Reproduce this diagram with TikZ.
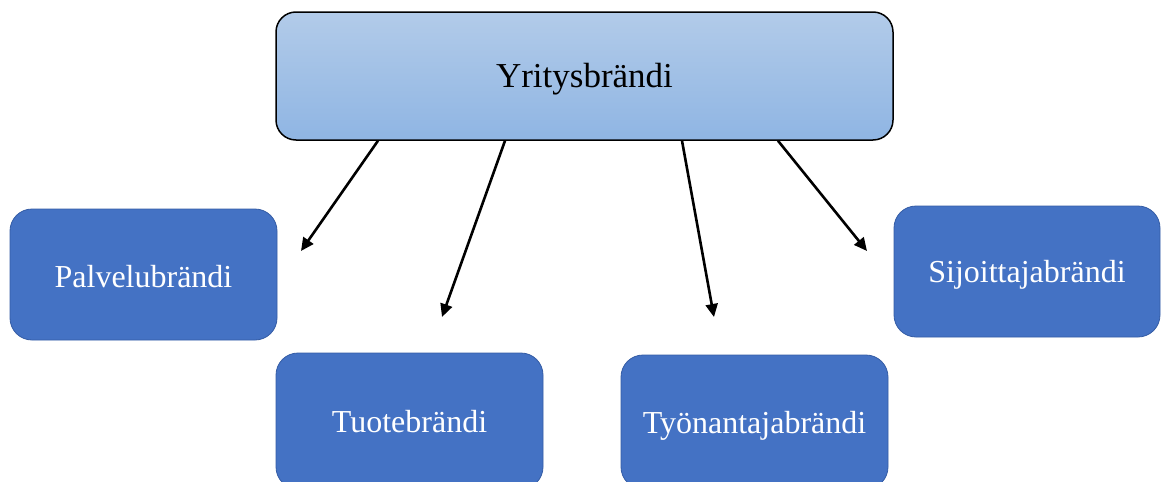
\documentclass[tikz,border=0pt]{standalone}
\usepackage{fontspec}
\setmainfont{Liberation Serif}
\usetikzlibrary{arrows.meta}
\definecolor{topA}{RGB}{178,203,233}
\definecolor{topB}{RGB}{143,181,227}
\definecolor{boxfill}{RGB}{68,114,196}
\definecolor{boxline}{RGB}{52,92,165}
\tikzset{
  mainbox/.style={rectangle, rounded corners=20pt, draw=black, line width=1.5pt,
    top color=topA, bottom color=topB, minimum width=617pt, minimum height=128pt,
    inner sep=0pt, font=\fontsize{35}{42}\selectfont, text=black},
  subbox/.style={rectangle, rounded corners=22pt, draw=boxline, line width=0.8pt,
    fill=boxfill, minimum width=267pt, inner sep=0pt,
    font=\fontsize{32}{38}\selectfont, text=white},
  base/.style={text height=#1, text depth=0pt},
  arr/.style={draw=black, line width=2.6pt, -{Triangle[length=13pt,width=12pt]}}
}
\begin{document}
\begin{tikzpicture}[x=1pt,y=-1pt]
\useasboundingbox (0,0) rectangle (1163,482);
\fill[white] (0,0) rectangle (1163,482);
\clip (0,0) rectangle (1163,482);
\node[mainbox, base=23pt] (top) at (584.5,76) {Yritysbrändi};
\node[subbox, base=26pt, minimum height=131pt] (palvelu) at (143.5,274.5) {Palvelubrändi};
\node[subbox, base=22pt, minimum height=136pt] (tuote) at (409.5,421) {Tuotebrändi};
\node[subbox, base=22pt, minimum height=134pt] (tyon) at (754.5,422) {Työnantajabrändi};
\node[subbox, base=21pt, minimum height=131pt, minimum width=266pt] (sijoittaja) at (1027,271.5) {Sijoittajabrändi};
\coordinate (t1) at (301,251);
\coordinate (t2) at (442,317);
\coordinate (t3) at (714,317);
\coordinate (t4) at (867,251);
\draw[arr] ([xshift=-206.5pt]top.south) -- (t1);
\draw[arr] ([xshift=-79.5pt]top.south) -- (t2);
\draw[arr] ([xshift=97.5pt]top.south) -- (t3);
\draw[arr] ([xshift=193.5pt]top.south) -- (t4);
\end{tikzpicture}
\end{document}
